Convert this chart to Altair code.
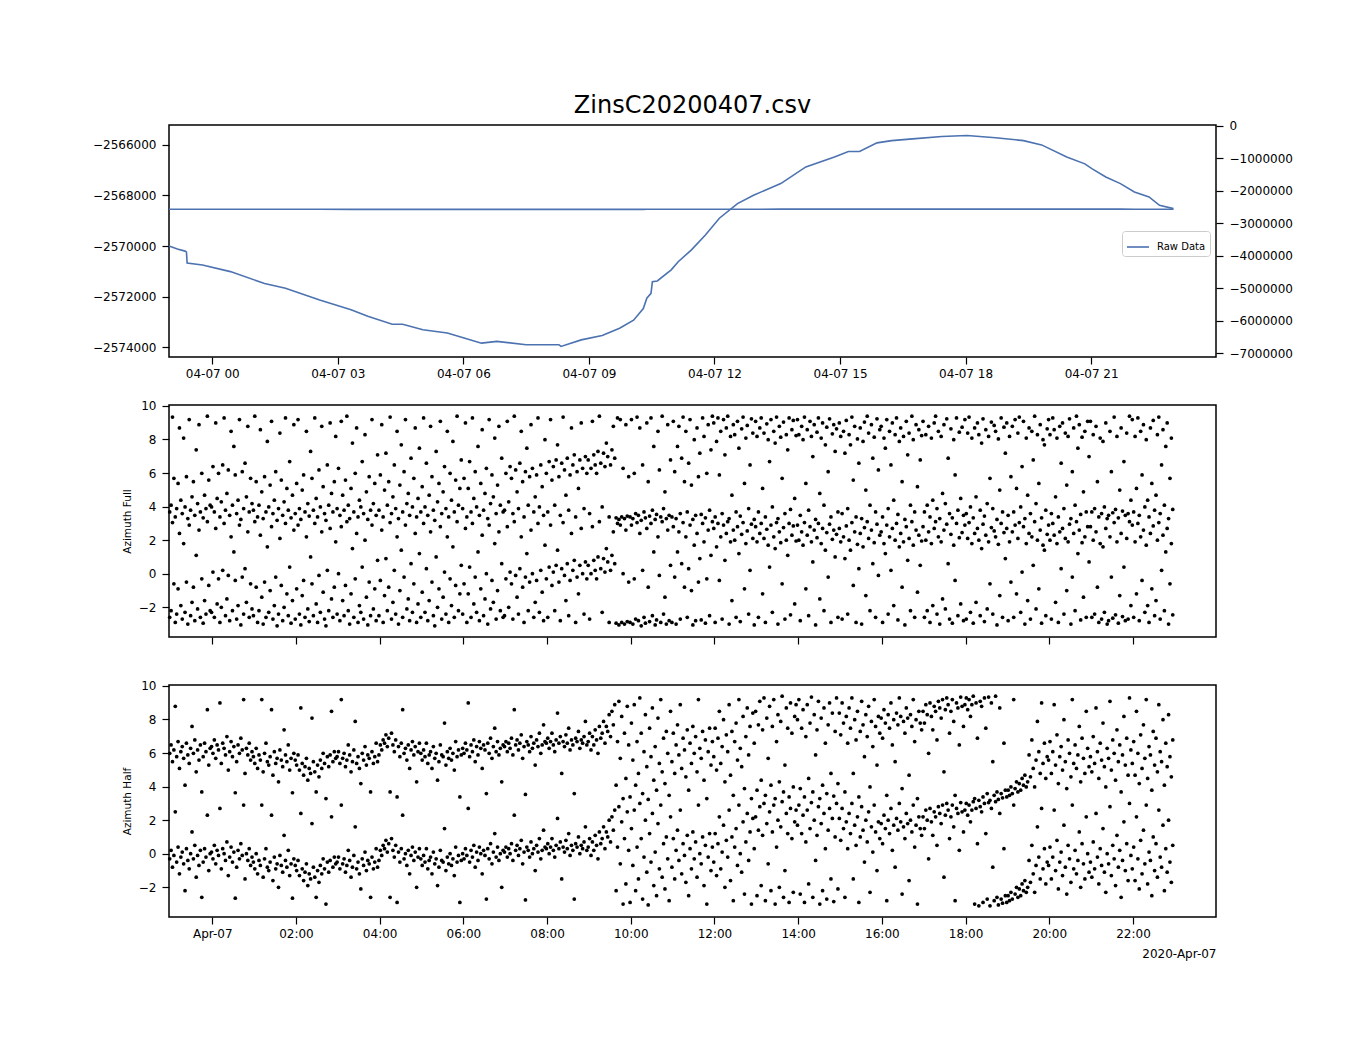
import altair as alt
import pandas as pd

FONT = "DejaVu Sans"
BLUE = "#4c72b0"

# ---------------- top panel: raw data line ----------------
line_times = [
    "2020-04-06 22:58", "2020-04-06 23:10", "2020-04-06 23:21", "2020-04-06 23:23",
    "2020-04-06 23:24", "2020-04-06 23:46", "2020-04-07 00:26", "2020-04-07 01:15",
    "2020-04-07 01:45", "2020-04-07 02:34", "2020-04-07 03:19", "2020-04-07 03:43",
    "2020-04-07 04:18", "2020-04-07 04:33", "2020-04-07 05:02", "2020-04-07 05:37",
    "2020-04-07 06:01", "2020-04-07 06:26", "2020-04-07 06:48", "2020-04-07 07:30",
    "2020-04-07 08:17", "2020-04-07 08:20", "2020-04-07 08:49", "2020-04-07 09:19",
    "2020-04-07 09:44", "2020-04-07 10:04", "2020-04-07 10:18", "2020-04-07 10:23",
    "2020-04-07 10:29", "2020-04-07 10:31", "2020-04-07 10:38", "2020-04-07 10:58",
    "2020-04-07 11:08", "2020-04-07 11:27", "2020-04-07 11:47", "2020-04-07 12:07",
    "2020-04-07 12:33", "2020-04-07 12:56", "2020-04-07 13:35", "2020-04-07 14:11",
    "2020-04-07 14:52", "2020-04-07 15:12", "2020-04-07 15:28", "2020-04-07 15:53",
    "2020-04-07 16:14", "2020-04-07 16:44", "2020-04-07 17:26", "2020-04-07 18:02",
    "2020-04-07 18:43", "2020-04-07 19:23", "2020-04-07 19:49", "2020-04-07 20:25",
    "2020-04-07 20:51", "2020-04-07 21:01", "2020-04-07 21:21", "2020-04-07 21:42",
    "2020-04-07 22:02", "2020-04-07 22:23", "2020-04-07 22:38", "2020-04-07 22:58",
]
line_values = [
    -2570000, -2570120, -2570200, -2570230,
    -2570670, -2570750, -2571010, -2571480,
    -2571670, -2572130, -2572520, -2572780,
    -2573090, -2573090, -2573310, -2573440,
    -2573640, -2573840, -2573770, -2573900,
    -2573900, -2573970, -2573710, -2573540,
    -2573250, -2572930, -2572470, -2572060,
    -2571870, -2571410, -2571380, -2570940,
    -2570620, -2570150, -2569560, -2568900,
    -2568320, -2567990, -2567530, -2566870,
    -2566480, -2566260, -2566260, -2565920,
    -2565830, -2565760, -2565670, -2565630,
    -2565720, -2565830, -2566000, -2566480,
    -2566750, -2566940, -2567270, -2567530,
    -2567860, -2568060, -2568390, -2568520,
]
left_ticks = [-2566000, -2568000, -2570000, -2572000, -2574000]
right_ticks = [0, -1000000, -2000000, -3000000, -4000000, -5000000, -6000000, -7000000]
top_tick_hours = [0, 3, 6, 9, 12, 15, 18, 21]
bottom_tick_hours = [0, 2, 4, 6, 8, 10, 12, 14, 16, 18, 20, 22]
az_ticks = [-2, 0, 2, 4, 6, 8, 10]

# ---------------- azimuth values (radians, one list per hour from 22:59) ----------------
full_by_hour = [
    [-2.6, -2.2, 3.05, -0.6, -2.9, -2.4, -0.9, 2.4, -1.9, -2.7, 1.8, -2.3, -0.5, -3.0, 2.9, -2.5, -1.7, -0.8, -2.8, 1.1, -2.1, 2.6, -2.6, -0.3, -2.95, -1.6, -2.4, 3.1, -0.7, -2.2],
    [-2.3, 0.1, -2.6, 2.7, -1.8, -0.3, -2.9, -2.0, 0.2, 3.0, -2.5, -1.5, -0.1, -2.8, 2.2, -2.2, 1.3, -0.4, -2.7, -1.9, 2.9, -3.05, -0.2, -2.4, 0.3, -1.7, 2.5, -2.6, -0.6, -2.1],
    [-2.5, 3.1, -0.8, -2.9, -2.2, 2.3, -1.4, -3.0, -0.5, -2.6, 1.6, -2.3, -1.0, 2.8, -2.7, -1.9, -0.2, -3.1, -2.4, 2.1, -0.7, -2.8, -2.0, 3.0, -1.2, -2.5, 0.4, -2.95, -1.6, 2.6],
    [-2.7, -0.9, 2.9, -2.4, -3.05, -1.3, -0.4, -2.6, 2.2, -2.1, -2.85, 1.0, -0.6, -2.5, 3.0, -1.8, -2.9, -0.1, -2.3, 2.5, -1.1, -2.7, -3.1, 0.2, -2.2, 2.7, -1.5, -2.6, -0.8, 1.9],
    [-2.4, 0.0, -2.8, 2.8, -1.6, -2.5, -0.7, 3.1, -2.2, -3.0, -1.2, 1.5, -2.6, -0.3, 2.4, -2.9, -1.9, -2.3, 0.4, -2.7, 2.0, -1.4, -3.05, -0.5, -2.5, 2.9, -2.1, -0.9, -2.8, 0.8],
    [-2.5, -0.4, 2.6, -2.9, -1.3, 0.9, -2.2, -0.8, 3.05, -2.7, -1.7, 0.2, -2.4, 2.2, -3.0, -1.0, 1.4, -2.6, -0.2, 2.9, -2.1, -1.5, -2.8, 0.6, -2.3, -0.6, 2.4, -2.9, -1.8, 1.2],
    [-2.6, -1.1, 3.0, -2.3, 0.3, -2.8, -1.6, 2.5, -0.5, -2.5, -3.1, 1.0, -2.0, -0.9, 2.8, -2.7, -1.4, 0.1, -2.4, 2.2, -2.9, -0.3, -1.9, 1.6, -2.6, -0.7, 3.1, -2.2, -1.2, 0.5],
    [-2.4, -0.6, 2.7, -2.9, -1.2, 0.4, -2.6, 3.0, -1.8, -0.2, -2.3, 1.3, -2.8, -0.9, 2.3, -2.5, -1.5, 0.0, -3.0, 2.9, -2.1, -0.4, -1.7, 1.8, -2.7, -1.0, 2.5, -2.2, 0.6, -2.6],
    [-2.5, -0.3, 2.8, -2.0, 0.1, -0.6, -2.7, 3.1, -0.1, -1.4, -2.4, 0.3, 2.2, -0.8, -2.9, -0.2, 1.2, -2.2, -0.5, 2.6, 0.0, -2.6, -1.7, -0.4, 3.0, -2.3, 0.2, -1.1, -2.8, 1.7],
    [-0.3, -2.6, 0.4, 2.9, -0.7, 0.1, -2.2, 0.5, 1.4, -0.5, -2.8, 0.3, 3.05, -0.1, -1.6, 0.6, -2.5, -0.4, 2.4, 0.2, 0.8, -2.9, -0.2, -1.2, 0.5, 2.7, 0.0, -2.4, 0.7, -0.3],
    [0.5, -2.7, 0.0, 2.8, 0.8, 0.2, -0.3, 1.0, 3.1, 0.3, -2.3, 0.9, 0.1, 1.5, 0.7, -2.9, 0.2, 1.1, 2.5, 0.6, -2.95, 3.0, -3.05, 2.9, -2.9, 0.0, -3.0, 2.6, -2.85, -0.5],
    [-2.9, 2.9, -3.0, -0.3, -2.7, 3.05, -2.8, 2.4, -3.1, 0.2, -2.6, -2.95, 2.7, -0.8, -2.85, 3.0, -2.5, 1.3, -3.05, -2.75, 2.2, -0.1, -2.9, 3.1, -2.4, -1.4, -3.0, 2.6, -2.8, 0.5],
    [-2.9, 2.8, -0.2, -3.0, 1.3, 2.5, -2.7, 0.6, 3.05, -0.8, 2.2, -2.6, 0.3, 2.9, -1.0, -3.05, 1.7, -2.8, 2.4, -0.5, 0.9, -2.75, 3.0, 1.9, -2.95, -0.3, 2.6, -2.5, 1.1, 3.1],
    [2.7, -2.9, 1.6, 3.0, -0.4, 2.2, -2.7, 2.9, 0.8, 2.4, 3.1, -3.0, 1.9, -1.6, 2.6, 2.0, -2.6, 2.8, 1.2, -2.85, 2.35, 3.05, -0.9, 1.8, 2.55, -2.4, 0.2, 2.95, 2.1, -3.05],
    [2.8, 1.9, -2.6, 2.4, 3.0, -1.2, 2.1, -2.9, 2.65, 1.7, 0.4, 2.9, -2.3, 2.2, 1.5, 3.05, -3.0, 2.5, 1.85, -0.6, 2.75, -2.7, 2.0, 1.1, 3.0, -2.45, 2.3, 2.85, -1.8, 1.95],
    [2.9, 2.0, -2.8, 2.5, 1.7, 3.05, -0.9, 2.3, -2.5, 2.8, 1.9, 0.7, 2.6, -3.05, 2.15, 3.0, -1.5, 1.8, 2.7, -2.2, 1.4, 2.45, -0.2, 2.95, -2.9, 2.05, 2.6, 1.0, 2.35, -2.6],
    [2.7, 1.9, -2.7, 2.2, 0.9, 2.85, -2.4, 2.0, 1.4, 3.05, -0.7, 2.5, -2.9, 1.75, 0.3, 2.4, -3.0, 1.6, 2.75, -1.3, 3.1, 2.1, -2.2, 2.6, 0.6, 1.85, -2.6, 2.95, -0.1, 2.3],
    [2.5, -2.9, 1.8, 1.2, 2.9, -2.4, 2.2, 0.2, 2.7, -1.9, 2.0, 3.0, -2.75, 1.6, 2.4, -0.8, 1.9, -3.05, 2.8, 0.8, 2.1, -2.2, 3.1, 1.7, -2.6, 2.6, -1.1, 2.3, 0.5, 1.95],
    [2.8, -2.6, 2.0, -2.2, 2.5, -2.9, 1.8, -1.9, 2.7, 3.1, -2.4, 2.2, -3.0, 1.9, -1.5, 2.6, -2.1, 2.95, 0.6, -2.7, 2.35, -2.95, 1.7, -0.4, 3.0, -2.5, 2.15, -1.8, 2.45, -2.8],
    [2.9, -2.7, 2.1, 3.05, -2.3, 1.8, -2.95, 2.4, -1.7, 2.7, 2.0, -2.5, 1.5, 2.95, -2.85, 2.3, -2.1, 1.9, -0.6, 2.75, -2.4, 2.55, 2.2, -3.05, 1.75, -1.3, 3.0, -2.6, 2.45, 0.9],
    [2.7, -2.8, 1.9, -0.5, 2.5, -2.6, 2.9, -1.2, 2.1, 3.05, -2.3, 0.1, 2.8, -3.0, 1.8, -1.6, 2.4, -2.7, 2.2, 0.5, 3.1, -2.1, 2.0, -0.9, 2.6, -2.95, 1.7, 1.4, -2.5, 2.35],
    [2.9, 2.0, -2.7, 3.0, 2.3, -1.7, 1.8, -2.9, 2.5, 0.3, 2.7, -2.4, 2.1, -1.0, 1.9, 2.95, -3.0, -0.2, 2.4, -2.2, 3.1, 1.2, 2.6, -2.75, 1.85, -1.4, 2.2, -2.6, 2.8, 0.7],
    [2.8, -2.6, 2.0, -2.4, 2.5, -0.8, -2.9, 1.8, -2.7, 1.6, -2.3, 2.7, -3.0, -2.8, 2.2, -0.2, -2.65, 3.05, -2.45, 1.9, -2.95, -1.3, 2.4, -2.55, 0.4, -2.8, 2.1, -2.7, 3.1, -1.9],
    [2.9, -2.6, 1.9, -1.2, 3.0, -2.8, 2.2, -0.4, 2.6, -2.3, 1.7, -1.9, -2.9, 2.4, -0.9, 2.85, -2.5, -1.6, 2.0, 3.05, -2.7, 0.2, 2.3, -2.2, 1.3, 2.7, -3.0, -0.6, 1.8, -2.45],
]

half_by_hour = [
    [-0.3, 0.2, -0.8, -0.1, 2.5, -0.5, 0.4, -1.2, -0.2, 0.1, -0.6, -2.2, 0.3, -0.4, -0.9, 0.0, 1.3, -0.3, 0.5, -1.4, -0.1, -0.7, 0.2, -2.6, -0.5, 0.3, -0.2, 2.3, -1.0, 0.0],
    [0.1, -0.3, 0.5, -0.6, 0.2, -0.1, 2.7, -0.9, 0.3, 0.0, -0.4, 0.7, -1.3, -0.2, 0.4, -0.5, 0.1, -2.65, -0.8, 0.2, -0.3, 0.6, -0.1, 2.9, -1.5, 0.0, -0.4, 0.3, -0.7, -0.2],
    [-0.5, -0.9, 0.0, -1.2, -0.4, -0.7, 2.9, -1.4, -0.3, 0.3, -0.8, -1.0, -0.5, 2.3, -1.6, -0.2, -0.9, -0.6, -2.0, -0.1, -0.7, -1.1, 1.1, -0.4, -0.8, 0.2, -1.3, -0.6, -2.65, -0.3],
    [-0.7, -1.0, -0.4, -1.3, 2.4, -0.9, -1.6, -1.1, -0.6, -1.9, -1.2, -1.5, 1.8, -0.8, -1.4, -2.6, -1.0, -1.7, -0.7, -1.2, -0.3, -0.9, -3.0, -0.5, -1.1, -0.4, 2.2, -0.8, -0.2, -0.6],
    [-0.5, -0.2, -0.9, 2.9, -0.6, -0.3, -1.1, -0.7, 0.2, -0.4, -1.4, -0.8, -0.1, 1.6, -0.9, -0.5, -1.2, -2.1, -0.3, -0.7, 0.1, -1.0, -0.4, -0.6, -2.6, -0.2, -0.9, -0.5, 0.3, -0.8],
    [-0.4, 0.2, -0.1, 0.5, 0.3, 0.8, 0.1, 0.6, -2.6, 0.9, 0.2, -0.2, 0.5, -2.9, 0.1, -0.5, 0.3, 2.3, -0.3, 0.0, -0.7, 0.2, -1.2, -0.1, 0.4, -0.4, 0.1, -2.0, -0.2, 0.3],
    [-0.3, -0.7, -0.1, -0.5, 0.3, -0.9, -0.4, -0.2, -1.2, 0.1, -0.6, -0.3, -1.9, -0.8, 0.2, -0.4, -0.5, 1.5, -1.0, -0.2, -0.6, 0.0, -0.7, -0.3, -1.3, 0.4, -0.5, -0.1, -2.9, -0.4],
    [0.0, -0.3, 0.3, -0.1, 2.7, -0.5, 0.2, -0.2, 0.5, -0.8, 0.1, -0.4, 0.4, 0.0, -1.2, 0.2, -0.1, -2.7, 0.3, -0.3, 0.6, -0.6, 0.1, 1.2, -0.2, 0.4, -0.4, 0.0, -2.0, 0.2],
    [0.1, 0.4, -0.2, 0.3, 0.0, 0.6, -0.4, 2.3, 0.2, 0.5, -0.1, 0.3, 0.8, -0.6, 0.1, -2.75, 0.4, 0.2, -0.2, 0.7, 0.0, 0.3, -1.0, 0.5, 0.1, 0.9, -0.3, 0.2, 1.4, 0.4],
    [0.3, 0.6, 0.0, 0.4, 0.9, 0.2, -0.2, 0.5, 2.1, 0.3, 0.7, -1.5, 0.4, 0.1, 0.8, 0.3, 1.2, -0.1, 0.5, 0.2, -2.7, 0.6, 0.4, 1.0, 0.0, 0.5, 0.3, 0.7, 1.6, 0.2],
    [0.4, 0.9, -0.1, 0.7, 0.2, 1.1, 0.5, -0.3, 1.3, 0.6, 0.9, 1.6, 0.3, 1.3, 1.0, 2.0, 0.7, 2.2, 1.4, 2.6, -2.2, 0.4, 2.8, -0.6, 1.9, -3.0, 0.9, -1.8, 2.5, 0.2],
    [-2.9, 1.5, -0.7, 2.6, -2.2, 0.4, -1.5, 3.0, 0.9, -2.7, -0.2, 2.0, -1.1, -3.05, 1.2, -0.5, 2.4, -1.9, 0.1, -2.5, 1.8, -0.9, 2.9, -1.4, 0.6, -2.1, 1.0, -0.3, -2.8, 2.2],
    [-0.8, 0.9, -1.5, 0.2, 1.4, -0.4, 2.6, -1.2, 0.6, -0.1, -1.7, 1.1, -2.5, 0.3, -0.9, 1.3, -0.3, 0.7, -1.4, 2.9, 0.0, -0.6, 1.0, -1.9, 0.5, -3.0, -0.2, 1.2, -1.0, 0.4],
    [-0.5, 1.2, -1.3, 0.6, 2.2, -0.9, 0.1, 1.7, -2.0, 0.8, -0.2, 2.6, -1.6, 1.0, -2.8, 0.4, 1.5, -0.7, 2.9, 0.0, -1.1, 1.9, -2.4, 0.7, 2.4, -0.4, 1.3, -3.0, 2.1, 0.3],
    [2.2, -2.5, 1.4, 2.8, -1.9, 1.1, 3.0, -2.8, 1.8, -0.6, 2.5, -2.2, 1.3, 2.9, -3.0, 0.4, 2.0, -2.0, 1.6, 3.1, -2.6, -1.0, 2.4, 1.2, -2.9, 2.7, 0.9, -2.3, 1.9, 2.6],
    [1.7, 2.9, -2.4, 1.2, 2.3, -2.9, 0.7, 2.6, -1.8, 1.5, 3.05, -2.6, 2.0, -0.4, 1.1, 2.8, -3.0, 1.8, -2.2, 2.4, 0.3, -2.7, 1.4, 2.7, -1.5, 2.1, -2.85, 1.0, 3.0, -2.1],
    [2.1, 0.8, 2.7, 1.5, -2.6, 1.9, 0.3, 2.4, 1.2, 3.0, -1.5, 1.7, 0.5, 2.2, -2.9, 1.0, 2.8, 1.4, -0.5, 2.0, 0.7, 2.5, -2.3, 1.6, 0.1, 2.9, 1.3, -1.0, 1.9, 0.9],
    [1.8, 0.6, 2.3, 1.5, -2.8, 2.0, 1.2, 2.7, 0.2, 1.7, -0.8, 2.1, 1.4, 3.0, 1.9, -2.4, 1.6, 0.9, 2.4, 1.8, -1.6, 2.0, 1.3, 2.9, 0.4, 1.7, -3.0, 2.2, 1.5, 1.1],
    [2.2, 1.5, 2.6, 2.0, -0.3, 2.7, 1.9, 1.1, 2.5, 2.2, 0.5, 2.8, 2.4, 1.8, 2.9, -1.4, 2.3, 3.0, 2.6, 0.9, 2.2, 2.9, 1.6, -2.8, 2.7, 2.4, 0.2, 3.05, 2.5, 1.3],
    [2.6, 3.0, 2.3, 2.9, 1.9, 2.6, 3.1, -3.0, 2.7, 0.6, -3.1, 2.8, 2.5, -2.9, 3.0, 1.2, -2.7, 3.05, -3.1, 2.7, -0.8, -2.8, 3.1, -2.6, -3.05, 2.4, -2.7, -2.95, 0.3, -2.5],
    [-2.9, -2.5, -2.8, -2.3, -2.7, 2.9, -2.4, -2.0, -2.6, -2.1, -2.5, -1.8, -2.2, -1.6, -2.3, -2.0, -0.4, -1.7, 0.5, -1.2, -2.3, -0.7, 1.6, -0.2, -1.5, 2.7, -0.9, 0.3, -1.8, -0.5],
    [-0.7, 0.4, -1.5, -0.2, 2.6, -1.0, 0.8, -2.1, -0.5, 0.1, -1.3, 1.7, -0.8, -2.4, 0.5, -0.3, -1.7, 2.9, -0.9, 0.2, -1.2, -0.4, 1.3, -2.0, 0.6, -0.6, -1.5, 2.2, 0.0, -1.1],
    [-0.5, -1.4, 0.7, -0.9, 2.4, -0.2, -1.8, 0.3, -0.7, 1.5, -1.1, -2.3, 0.0, -0.6, 2.8, -1.3, 0.5, -0.3, -1.9, 1.1, -0.8, 0.2, -2.6, -0.4, 1.9, -1.0, 0.6, -1.6, 3.0, -0.1],
    [-0.9, 0.4, -1.6, 2.2, -0.3, -2.1, 0.8, -1.2, 1.4, -0.6, 2.9, -1.8, 0.1, -0.4, -2.5, 1.0, -1.0, 0.6, -1.4, 2.6, -0.2, -0.8, 1.7, -2.2, 0.3, -1.1, 2.0, -0.5, -1.7, 0.5],
]


def hourly_frame(by_hour):
    start = pd.Timestamp("2020-04-06 22:59")
    times, vals = [], []
    for h, values in enumerate(by_hour):
        step = 60.0 / len(values)
        for i, v in enumerate(values):
            times.append(start + pd.Timedelta(minutes=h * 60 + i * step))
            vals.append(v)
    return pd.DataFrame({"time": times, "az": vals})


def dt(day, hour, minute=0):
    return alt.DateTime(year=2020, month=4, date=day, hours=hour, minutes=minute)


x_scale = alt.Scale(domain=[dt(6, 22, 58), dt(7, 23, 59)])
top_x_values = [dt(7, h) for h in top_tick_hours]
bottom_x_values = [dt(7, h) for h in bottom_tick_hours]

# ---------------- top panel ----------------
line_df = pd.DataFrame({
    "time": pd.to_datetime(line_times),
    "value": line_values,
    "series": ["Raw Data"] * len(line_values),
})

top_x = alt.X("time:T", scale=x_scale,
              axis=alt.Axis(values=top_x_values, format="%m-%d %H", title=None,
                            labelOverlap=False, labelFlush=False))

left_layer = alt.Chart(line_df).mark_line(strokeWidth=1.6).encode(
    x=top_x,
    y=alt.Y("value:Q",
            scale=alt.Scale(domain=[-2574387, -2565213], nice=False, zero=False),
            axis=alt.Axis(values=left_ticks, format="d", title=None)),
    color=alt.Color("series:N",
                    scale=alt.Scale(domain=["Raw Data"], range=[BLUE]),
                    legend=alt.Legend(orient="none", legendX=953, legendY=106, title=None,
                                      strokeColor="#cccccc", fillColor="white", padding=4,
                                      cornerRadius=3, symbolType="stroke", symbolSize=484,
                                      symbolStrokeWidth=1.6, labelFontSize=10,
                                      labelColor="black", labelOffset=7)),
)

right_layer = alt.Chart(line_df).mark_line(strokeWidth=1.6, color=BLUE).encode(
    x=top_x,
    y=alt.Y("value:Q",
            scale=alt.Scale(domain=[-7115000, 21500], nice=False, zero=False),
            axis=alt.Axis(values=right_ticks, format="d", title=None, orient="right")),
)

top = alt.layer(left_layer, right_layer).resolve_scale(y="independent").properties(
    width=1047, height=232,
    title=alt.TitleParams("ZinsC20200407.csv", fontSize=24, fontWeight="normal",
                          anchor="middle", frame="group", offset=-17, color="black",
                          baseline="alphabetic"),
)

# ---------------- azimuth panels ----------------
az_scale = alt.Scale(domain=[-3.7699, 10.0531], nice=False, zero=False)


def azimuth_panel(by_hour, ytitle, bottom):
    df = hourly_frame(by_hour)
    if bottom:
        xaxis = alt.Axis(values=bottom_x_values, title="2020-Apr-07", titleAnchor="end",
                         titleFontWeight="normal", titleFontSize=12, titlePadding=9,
                         labelOverlap=False, labelFlush=False,
                         labelExpr="hours(datum.value) == 0 ? timeFormat(datum.value, '%b-%d') : timeFormat(datum.value, '%H:%M')")
    else:
        xaxis = alt.Axis(values=bottom_x_values, title=None, labels=False)
    yaxis = alt.Axis(values=az_ticks, format="d", title=ytitle, titleFontWeight="normal",
                     titleFontSize=10.5, titlePadding=6)
    x = alt.X("time:T", scale=x_scale, axis=xaxis)
    base = alt.Chart(df).mark_circle(size=14, color="black", opacity=1)
    lower = base.encode(x=x, y=alt.Y("az:Q", scale=az_scale, axis=yaxis))
    upper = base.transform_calculate(wrapped="datum.az + 2 * PI").encode(
        x=x, y=alt.Y("wrapped:Q", scale=az_scale, axis=yaxis))
    return alt.layer(lower, upper).properties(width=1047, height=232)


mid = azimuth_panel(full_by_hour, "Azimuth Full", False)
bot = azimuth_panel(half_by_hour, "Azimuth Half", True)

chart = alt.vconcat(top, mid, bot, spacing=48, bounds="flush").properties(
    padding={"left": 83, "top": 84, "right": 10, "bottom": 10},
).configure(font=FONT).configure_view(
    stroke="black", strokeWidth=1.5
).configure_axis(
    domain=False, grid=False, labelFontSize=12, labelColor="black", tickColor="black",
    tickSize=7, tickWidth=1.2, titleColor="black", labelFont=FONT, titleFont=FONT,
).configure_axisX(labelPadding=4).configure_axisY(labelPadding=6)

chart.save("out.html", embed_options={"renderer": "svg", "actions": False})
